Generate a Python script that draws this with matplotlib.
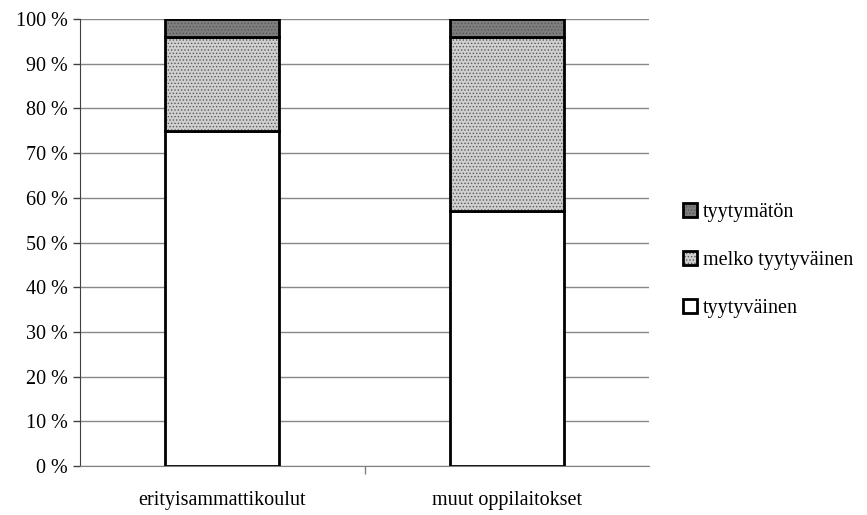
import numpy as np
import matplotlib.pyplot as plt

categories = ['erityisammattikoulut', 'muut oppilaitokset']
tyytyvainen = [75, 57]
melko_tyytyvainen = [21, 39]
tyytymaton = [4, 4]
yticks = list(range(0, 101, 10))

plt.rcParams['font.family'] = ['Liberation Serif', 'DejaVu Serif']
plt.rcParams['hatch.linewidth'] = 0.6

fig = plt.figure(figsize=(8.67, 5.15), dpi=100)
ax = fig.add_axes([0.0923, 0.0951, 0.6563, 0.868])

x = np.arange(len(categories))
w = 0.4
b1 = ax.bar(x, tyytyvainen, w, color='white', edgecolor='black', linewidth=2,
            label='tyytyväinen', zorder=3)
b2 = ax.bar(x, melko_tyytyvainen, w, bottom=tyytyvainen, color='#cfcfcf',
            edgecolor='black', linewidth=2, hatch='.....', label='melko tyytyväinen', zorder=3)
bottom2 = np.array(tyytyvainen) + np.array(melko_tyytyvainen)
b3 = ax.bar(x, tyytymaton, w, bottom=bottom2, color='#7d7d7d', edgecolor='black',
            linewidth=2, hatch='.....', label='tyytymätön', zorder=3)
for bars in (b2, b3):
    for p in bars:
        p._hatch_color = (0.35, 0.35, 0.35, 1)

ax.set_xlim(-0.5, 1.5)
ax.set_ylim(0, 100)
ax.set_yticks(yticks)
ax.set_yticklabels([f'{v} %' for v in yticks], fontsize=14.5)
ax.yaxis.grid(True, color='#888888', linewidth=1)
ax.set_axisbelow(True)

# category labels centred, tick marks on the boundary between them
ax.set_xticks(x)
ax.set_xticklabels(categories, fontsize=14.5)
ax.tick_params(axis='x', length=0, pad=18)
ax.set_xticks([0.5], minor=True)
ax.tick_params(axis='x', which='minor', length=6, color='#808080', width=1)
ax.tick_params(axis='y', length=5, color='#404040', width=1, pad=4)

for s in ('top', 'right'):
    ax.spines[s].set_visible(False)
ax.spines['left'].set_color('#404040')
ax.spines['bottom'].set_color('#808080')

handles = [b3, b2, b1]
leg = ax.legend(handles, [h.get_label() for h in handles], loc='center left',
                bbox_to_anchor=(1.027, 0.46), frameon=False, fontsize=14.5,
                handlelength=0.7, handleheight=0.7, handletextpad=0.3, labelspacing=1.45)

fig.savefig('out.png', dpi=100)
